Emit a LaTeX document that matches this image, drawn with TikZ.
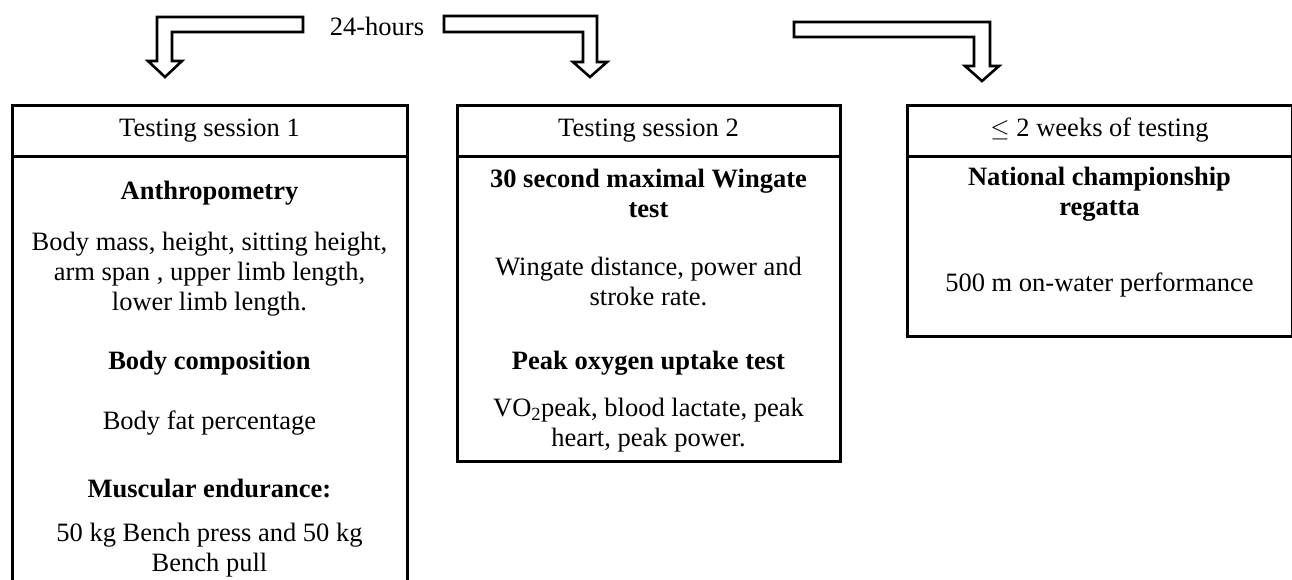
\documentclass[tikz,border=0pt]{standalone}
\usepackage{fontspec}
\setmainfont{Liberation Serif}
\usetikzlibrary{positioning}

\tikzset{
  box/.style={draw,line width=3pt},
  hdr/.style={box,minimum height=51pt,inner sep=0pt,outer sep=0pt,font=\fontsize{26.5}{30}\selectfont},
  blockarrow/.style={draw,line width=2.6pt,line join=miter,fill=white},
  txt/.style={align=center,inner sep=0pt,font=\fontsize{26.5}{30}\selectfont},
  head/.style={txt,font=\fontsize{26.5}{30}\selectfont\bfseries}
}

\begin{document}
\begin{tikzpicture}[x=1pt,y=-1pt]
\useasboundingbox (0,0) rectangle (1292,579);
\clip (0,0) rectangle (1292,579);

% block arrows
\node[txt] (day) at (377,26) {24-hours};
\draw[blockarrow] (303,17) -- (157,17) -- (157,61) -- (148,61) -- (165,77)
  -- (182,61) -- (172,61) -- (172,32) -- (303,32) -- cycle;
\draw[blockarrow] (444,16) -- (597,16) -- (597,62) -- (607,62) -- (590,77)
  -- (573,62) -- (583,62) -- (583,32) -- (444,32) -- cycle;
\draw[blockarrow] (794,22) -- (990,22) -- (990,66) -- (999,66) -- (982,81)
  -- (965,66) -- (974,66) -- (974,37) -- (794,37) -- cycle;

% session 1
\node[hdr,minimum width=395pt] (s1) at (209.5,130.5) {Testing session 1};
\draw[box] (s1.south west) -- (12,600) (s1.south east) -- (407,600);
\node[head] (anthro) at (209.5,193) {Anthropometry};
\node[txt] (anthrotxt) at (209.5,274) {Body mass, height, sitting height,\\arm span , upper limb length,\\lower limb length.};
\node[head] (comp) at (209.5,363) {Body composition};
\node[txt] (comptxt) at (209.5,423) {Body fat percentage};
\node[head] (endur) at (209.5,488) {Muscular endurance:};
\node[txt] (endurtxt) at (209.5,550) {50 kg Bench press and 50 kg\\Bench pull};

% session 2
\node[hdr,minimum width=383pt] (s2) at (648.5,130.5) {Testing session 2};
\draw[box] (s2.south west) rectangle (840,461);
\node[head] (wingate) at (648.5,193) {30 second maximal Wingate\\test};
\node[txt] (wingatetxt) at (648.5,281) {Wingate distance, power and\\stroke rate.};
\node[head] (vo2) at (648.5,363) {Peak oxygen uptake test};
\node[txt] (vo2txt) at (648.5,425) {VO\textsubscript{2}peak, blood lactate, peak\\heart, peak power.};

% regatta
\node[hdr,minimum width=385pt] (s3) at (1099.5,130.5) {$\leq$ 2 weeks of testing};
\draw[box] (s3.south west) rectangle (1292,336);
\node[head] (race) at (1099.5,194) {National championship\\regatta};
\node[txt] (racetxt) at (1099.5,285) {500 m on-water performance};
\end{tikzpicture}
\end{document}
